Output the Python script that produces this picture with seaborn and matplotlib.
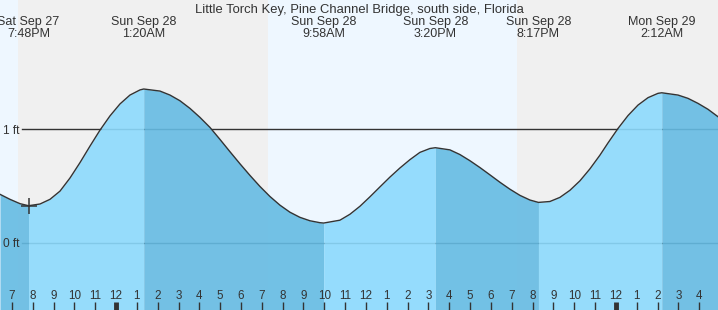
import numpy as np
import pandas as pd
import matplotlib
matplotlib.use("Agg")
import matplotlib.pyplot as plt
import matplotlib.transforms as mtransforms
import seaborn as sns

# ---- data (hours relative to Sun Sep 28 00:00, heights in ft) ----
hours = [-5.57, -5.09, -4.61, -4.20, -3.65, -3.17, -2.69, -2.21, -1.73, -1.25,
         -0.77, -0.29, 0.19, 0.67, 1.15, 1.33, 2.11, 2.59, 3.07, 3.55,
         4.03, 4.51, 4.99, 5.47, 5.95, 6.43, 6.91, 7.39, 7.87, 8.35,
         8.83, 9.31, 9.79, 9.97, 10.75, 11.23, 11.71, 12.19, 12.67, 13.15,
         13.63, 14.11, 14.59, 15.07, 15.33, 16.03, 16.51, 16.99, 17.47, 17.95,
         18.43, 18.91, 19.39, 19.87, 20.28, 20.83, 21.31, 21.79, 22.27, 22.75,
         23.23, 23.62, 24.10, 24.58, 25.06, 25.54, 26.02, 26.20, 26.98, 27.46,
         27.94, 28.42, 28.90]
heights = [0.427, 0.383, 0.345, 0.327, 0.342, 0.383, 0.455, 0.570, 0.705, 0.850,
           0.990, 1.115, 1.220, 1.298, 1.343, 1.351, 1.333, 1.298, 1.248, 1.181,
           1.102, 1.014, 0.909, 0.801, 0.695, 0.593, 0.496, 0.408, 0.332, 0.270,
           0.225, 0.195, 0.178, 0.175, 0.200, 0.252, 0.322, 0.405, 0.492, 0.578,
           0.658, 0.731, 0.795, 0.829, 0.836, 0.817, 0.776, 0.722, 0.662, 0.598,
           0.533, 0.472, 0.418, 0.377, 0.356, 0.364, 0.400, 0.462, 0.545, 0.650,
           0.770, 0.878, 1.005, 1.118, 1.210, 1.275, 1.313, 1.318, 1.298, 1.269,
           1.225, 1.173, 1.108]

ext_hours = [-4.20, 1.33, 9.97, 15.33, 20.28, 26.20]
ext_days = ["Sat Sep 27", "Sun Sep 28", "Sun Sep 28", "Sun Sep 28", "Sun Sep 28", "Mon Sep 29"]
ext_times = ["7:48PM", "1:20AM", "9:58AM", "3:20PM", "8:17PM", "2:12AM"]

daylight = [(-5.57, -4.70), (7.30, 19.25)]
title = "Little Torch Key, Pine Channel Bridge, south side, Florida"
ytick_vals = [0, 1]
ytick_labels = ["0 ft", "1 ft"]

df = pd.DataFrame({"hour": hours, "height": heights})

# ---- figure ----
W, H = 718, 310
plt.rcParams["font.family"] = ["Liberation Sans", "DejaVu Sans"]
fig = plt.figure(figsize=(W / 100, H / 100), dpi=100)
ax = fig.add_axes([0, 0, 1, 1])
TXT = "#333333"

xmin, xmax = -5.57, 28.90
ax.set_xlim(xmin, xmax)
ax.set_ylim(-0.588, 2.132)
ax.set_facecolor("#f0f0f0")
for a, b in daylight:
    ax.axvspan(a, b, color="#eef7ff", zorder=0, lw=0)

# grid lines
for v in ytick_vals:
    ax.axhline(v, xmin=22 / W, xmax=1, color=TXT, lw=1.0, zorder=1)

# fills: rising light, falling dark
x = np.array(hours)
y = np.array(heights)
bounds = [xmin] + ext_hours + [xmax]
for a, b in zip(bounds[:-1], bounds[1:]):
    m = (x >= a - 1e-9) & (x <= b + 1e-9)
    ya = np.interp(a, x, y)
    yb = np.interp(b, x, y)
    col = "#8cdafd" if yb > ya else "#65bbe3"
    ax.fill_between(x[m], y[m], -1, color=col, alpha=0.9, lw=0, zorder=2)

sns.lineplot(data=df, x="hour", y="height", ax=ax, color=TXT, lw=1.0, zorder=3)
ax.plot([ext_hours[0]], [np.interp(ext_hours[0], x, y)], marker="+", ms=11,
        mew=1.1, color=TXT, zorder=4)

# ticks
ax.set_axisbelow(False)
xt = list(range(-5, 29))
ax.set_xticks(xt)
ax.set_xticklabels([str((h % 12) or 12) for h in xt])
ax.tick_params(axis="x", direction="in", length=6, width=1, color=TXT,
               labelcolor=TXT, labelsize=8.4, pad=-14.5)
for h, t in zip(xt, ax.xaxis.get_major_ticks()):
    if h % 24 == 0:
        t.tick1line.set_markeredgewidth(3.5)
ax.set_yticks(ytick_vals)
ax.set_yticklabels(ytick_labels)
ax.tick_params(axis="y", length=0, labelcolor=TXT, labelsize=8.6, pad=-14)
ax.set_xlabel("")
ax.set_ylabel("")
for s in ax.spines.values():
    s.set_visible(False)

# texts
trans = mtransforms.blended_transform_factory(ax.transData, ax.transAxes)
ax.text(0.5, 1 - 13.3 / H, title, transform=ax.transAxes, ha="center", va="baseline",
        fontsize=9.4, color=TXT, zorder=5)
for hx, d, t in zip(ext_hours, ext_days, ext_times):
    ax.text(hx, 1 - 25.0 / H, d, transform=trans, ha="center", va="baseline",
            fontsize=9.0, color=TXT, zorder=5)
    ax.text(hx, 1 - 36.7 / H, t, transform=trans, ha="center", va="baseline",
            fontsize=9.0, color=TXT, zorder=5)

fig.savefig("out.png", dpi=100)
